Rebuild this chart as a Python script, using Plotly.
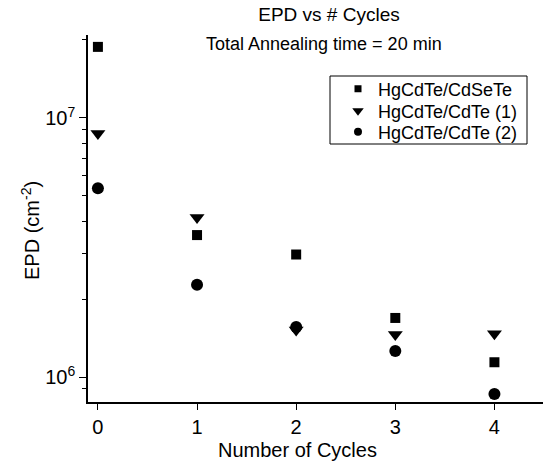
import plotly.graph_objects as go

cycles = [0, 1, 2, 3, 4]
cdsete = [1.88e7, 3.53e6, 2.97e6, 1.69e6, 1.14e6]
cdte1 = [8.7e6, 4.13e6, 1.52e6, 1.46e6, 1.47e6]
cdte2 = [5.35e6, 2.27e6, 1.56e6, 1.26e6, 8.6e5]

series = [
    ("HgCdTe/CdSeTe", cdsete, "square", 10, 7),
    ("HgCdTe/CdTe (1)", cdte1, "triangle-down", 13, 10),
    ("HgCdTe/CdTe (2)", cdte2, "circle", 12, 8),
]

major_vals = [1e6, 1e7]
major_text = ["10<sup>6</sup>", "10<sup>7</sup>"]
minor_vals = [8e5, 9e5] + [k * 1e6 for k in range(2, 10)] + [2e7]

font = "Liberation Sans, Arial, sans-serif"

# plot area in pixels
L, R, T, B = 88, 543, 35, 402
W, H = R - L, B - T


def px(x):
    return (x - L) / W


def py(y):
    return (B - y) / H


legend_names = ["legend", "legend2", "legend3"]
legend_rows = [89, 111, 132]

fig = go.Figure()
for name, vals, sym, sz, lsz in series:
    fig.add_trace(go.Scatter(
        x=cycles, y=vals, mode="markers", name=name, showlegend=False,
        marker=dict(symbol=sym, size=sz, color="black", line=dict(width=0)),
    ))
for (name, vals, sym, sz, lsz), lg in zip(series, legend_names):
    fig.add_trace(go.Scatter(
        x=[None], y=[None], mode="markers", name=name, showlegend=True, legend=lg,
        marker=dict(symbol=sym, size=lsz, color="black", line=dict(width=0)),
    ))

legend_common = dict(xanchor="left", yanchor="middle", bgcolor="rgba(0,0,0,0)",
                     borderwidth=0, font=dict(size=18), itemsizing="trace",
                     itemwidth=30)

fig.update_layout(
    width=544, height=466,
    margin=dict(l=L, r=544 - R, t=T, b=466 - B),
    paper_bgcolor="white", plot_bgcolor="white",
    font=dict(family=font, color="black", size=18),
    title=dict(text="EPD vs # Cycles", x=329 / 544, xanchor="center",
               y=1 - 14 / 466, yanchor="middle", font=dict(size=19)),
    showlegend=True,
    legend=dict(x=px(338), y=py(legend_rows[0]), **legend_common),
    legend2=dict(x=px(338), y=py(legend_rows[1]), **legend_common),
    legend3=dict(x=px(338), y=py(legend_rows[2]), **legend_common),
    shapes=[dict(type="rect", xref="paper", yref="paper",
                 x0=px(330), x1=px(527), y0=py(144), y1=py(76),
                 line=dict(color="black", width=1), fillcolor="rgba(0,0,0,0)")],
    annotations=[
        dict(text="Total Annealing time = 20 min", xref="paper", yref="paper",
             x=px(324), y=py(44), xanchor="center", yanchor="middle",
             showarrow=False, font=dict(size=18)),
        dict(text="Number of Cycles", xref="paper", yref="paper",
             x=px(297), y=py(450), xanchor="center", yanchor="middle",
             showarrow=False, font=dict(size=20)),
        dict(text="EPD (cm<sup>-2</sup>)", xref="paper", yref="paper",
             x=px(30), y=py(231), xanchor="center", yanchor="middle",
             textangle=-90, showarrow=False, font=dict(size=20)),
    ],
)

fig.update_xaxes(
    range=[-0.1, 4.49], showline=True, linecolor="black", linewidth=1.5,
    showgrid=False, zeroline=False, ticks="outside", ticklen=6, tickwidth=1.2,
    tickcolor="black", tickvals=cycles, tickfont=dict(size=20),
)
fig.update_yaxes(
    type="log", range=[5.9035, 7.32], showline=True, linecolor="black", linewidth=1.5,
    showgrid=False, zeroline=False, ticks="outside", ticklen=7, tickwidth=1.2,
    tickcolor="black", tickvals=major_vals, ticktext=major_text,
    minor=dict(tickvals=minor_vals, ticks="outside", ticklen=4, tickwidth=1.2,
               tickcolor="black", showgrid=False),
    tickfont=dict(size=20),
)

fig.write_html("out.html")
